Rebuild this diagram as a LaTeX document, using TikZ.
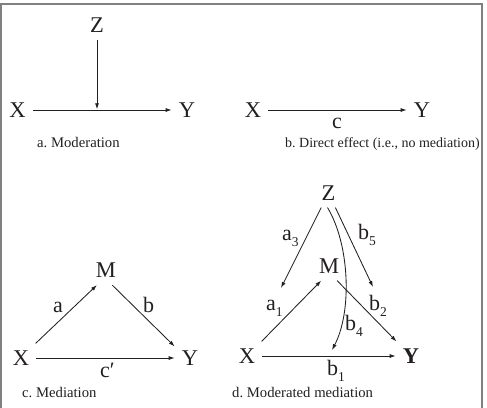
\documentclass[tikz,border=0pt]{standalone}
\usepackage{fontspec}
\setmainfont{Liberation Serif}
\usetikzlibrary{arrows.meta}
\definecolor{ink}{HTML}{231F20}
\definecolor{framegray}{HTML}{808080}
\newcommand{\sbs}[1]{\raisebox{-6.5pt}{\fontsize{13.5}{14}\selectfont #1}}
\frenchspacing
\begin{document}
\begin{tikzpicture}[x=1pt,y=-1pt,
  var/.style={inner sep=7pt, font=\fontsize{22.5}{27}\selectfont, text=ink},
  lab/.style={inner sep=0pt, anchor=base west, font=\fontsize{22}{26}\selectfont, text=ink},
  capt/.style={inner sep=0pt, anchor=base west, font=\fontsize{14.7}{17}\selectfont, text=ink},
  arr/.style={draw=ink, line width=0.85pt, -{Latex[length=6pt,width=4pt]}},
]
\useasboundingbox (0,0) rectangle (487,407);
\draw[draw=framegray, line width=1.8pt] (1,410) -- (1,4) -- (482,4) -- (482,410);

% a. Moderation
\node[var] (aZ) at (97,25) {Z};
\node[var] (aX) at (17.5,110) {X};
\node[var] (aY) at (187,110) {Y};
\coordinate (am) at (97,109.3);
\draw[arr] (aX) -- (aY);
\draw[arr] (aZ) -- (am);
\node[capt] (acap) at (37,147) {a. Moderation};

% b. Direct effect
\node[var] (bX) at (253,110) {X};
\node[var] (bY) at (422,110) {Y};
\draw[arr] (bX) -- (bY);
\node[lab] (bc) at (332,128) {c};
\node[capt, font=\fontsize{14}{17}\selectfont] (bcap) at (285,147) {b. Direct effect (i.e., no mediation)};

% c. Mediation
\node[var] (cM) at (106,270.5) {M};
\node[var] (cX) at (21,358) {X};
\node[var] (cY) at (190,358) {Y};
\draw[arr] (cX.45) -- (cM.-122);
\draw[arr] (cM.-67) -- (cY.143);
\draw[arr] (cX) -- (cY);
\node[lab] (ca) at (53,312) {a};
\node[lab] (cb) at (143,312) {b};
\node[lab] (cc) at (100,377) {c′};
\node[capt] (ccap) at (22,397) {c. Mediation};

% d. Moderated mediation
\node[var] (dZ) at (328.5,193) {Z};
\node[var] (dM) at (329,266) {M};
\node[var] (dX) at (247,356) {X};
\node[var] (dY) at (411,356) {\textbf{Y}};
\coordinate (ta) at (281,288);
\coordinate (tb) at (373,287);
\coordinate (tc) at (332,350);
\draw[arr] (dX.45) -- (dM.-118);
\draw[arr] (dM.-61) -- (dY.135);
\draw[arr] (dX) -- (dY);
\draw[arr] (dZ) -- (ta);
\draw[arr] (dZ) -- (tb);
\draw[arr] ([xshift=-1pt]dZ.south) .. controls (350,245) and (352,312) .. (tc);
\node[lab] (la3) at (282,240) {a\sbs{3}};
\node[lab] (lb5) at (358,239) {b\sbs{5}};
\node[lab] (la1) at (266,310) {a\sbs{1}};
\node[lab] (lb2) at (369,310) {b\sbs{2}};
\node[lab] (lb4) at (345,330) {b\sbs{4}};
\node[lab] (lb1) at (327,375) {b\sbs{1}};
\node[capt] (dcap) at (232,397.5) {d. Moderated mediation};
\end{tikzpicture}
\end{document}
